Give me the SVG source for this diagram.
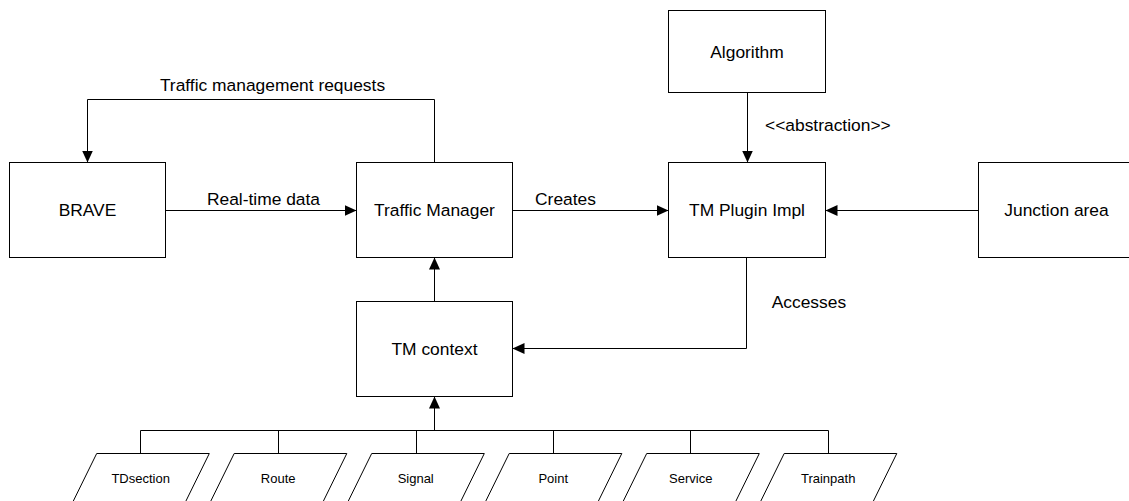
<svg xmlns="http://www.w3.org/2000/svg" width="1129" height="501" viewBox="0 0 1129 501">
  <style>
    .box { fill: #ffffff; stroke: #000000; stroke-width: 1; }
    .lbl { font-family: "Liberation Sans", Arial, sans-serif; font-size: 17.4px; fill: #000000; }
    .mid { text-anchor: middle; }
    .small { font-family: "Liberation Sans", Arial, sans-serif; font-size: 13px; fill: #000000; text-anchor: middle; }
    .edge { fill: none; stroke: #000000; stroke-width: 1; }
  </style>
  <defs>
    <marker id="arrow" viewBox="0 0 12 11" refX="12" refY="5.5" markerWidth="12" markerHeight="11" markerUnits="userSpaceOnUse" orient="auto">
      <path d="M0,0 L12,5.5 L0,11 z" fill="#000000"/>
    </marker>
  </defs>

  <!-- connectors -->
  <g id="connectors">
    <path class="edge" d="M434.5,162.5 V99.5 H87.5 V162.5" marker-end="url(#arrow)"/>
    <path class="edge" d="M165.5,210.5 H356.5" marker-end="url(#arrow)"/>
    <path class="edge" d="M512.5,210.5 H668.5" marker-end="url(#arrow)"/>
    <path class="edge" d="M747.5,92.5 V162.5" marker-end="url(#arrow)"/>
    <path class="edge" d="M978.5,210.5 H825.5" marker-end="url(#arrow)"/>
    <path class="edge" d="M746.5,257.5 V348.5 H512.5" marker-end="url(#arrow)"/>
    <path class="edge" d="M434.5,301.5 V257.5" marker-end="url(#arrow)"/>
    <path class="edge" d="M434.5,430.5 V396.5" marker-end="url(#arrow)"/>
    <path class="edge" d="M140.5,453.5 V430.5 H828.5 V453.5 M278.5,430.5 V453.5 M416.5,430.5 V453.5 M553.5,430.5 V453.5 M690.5,430.5 V453.5"/>
    <text class="lbl mid" x="272.5" y="91">Traffic management requests</text>
    <text class="lbl mid" x="263.5" y="205">Real-time data</text>
    <text class="lbl mid" x="565.5" y="205">Creates</text>
    <text class="lbl" x="765" y="130.5">&lt;&lt;abstraction&gt;&gt;</text>
    <text class="lbl" x="771.7" y="307.5">Accesses</text>
  </g>

  <g id="brave">
    <rect class="box" x="9.5" y="162.5" width="156" height="95"/>
    <text class="lbl mid" x="87.5" y="216">BRAVE</text>
  </g>
  <g id="traffic-manager">
    <rect class="box" x="356.5" y="162.5" width="156" height="95"/>
    <text class="lbl mid" x="434.5" y="216">Traffic Manager</text>
  </g>
  <g id="algorithm">
    <rect class="box" x="668.5" y="10.5" width="157" height="82"/>
    <text class="lbl mid" x="747" y="57.5">Algorithm</text>
  </g>
  <g id="tm-plugin-impl">
    <rect class="box" x="668.5" y="162.5" width="157" height="95"/>
    <text class="lbl mid" x="747" y="216">TM Plugin Impl</text>
  </g>
  <g id="junction-area">
    <rect class="box" x="978.5" y="162.5" width="156" height="95"/>
    <text class="lbl mid" x="1056.5" y="216">Junction area</text>
  </g>
  <g id="tm-context">
    <rect class="box" x="356.5" y="301.5" width="156" height="95"/>
    <text class="lbl mid" x="434.5" y="355">TM context</text>
  </g>

  <!-- data items: parallelograms, top edge at 453.5, slant 24.6 over 50 -->
  <g id="tdsection">
    <path class="box" d="M96.7,453.5 H209.3 L184.7,503.5 H72.1 z"/>
    <text class="small" x="140.7" y="483">TDsection</text>
  </g>
  <g id="route">
    <path class="box" d="M234.2,453.5 H346.8 L322.2,503.5 H209.6 z"/>
    <text class="small" x="278.2" y="483">Route</text>
  </g>
  <g id="signal">
    <path class="box" d="M371.7,453.5 H484.3 L459.7,503.5 H347.1 z"/>
    <text class="small" x="415.7" y="483">Signal</text>
  </g>
  <g id="point">
    <path class="box" d="M509.2,453.5 H621.8 L597.2,503.5 H484.6 z"/>
    <text class="small" x="553.2" y="483">Point</text>
  </g>
  <g id="service">
    <path class="box" d="M646.7,453.5 H759.3 L734.7,503.5 H622.1 z"/>
    <text class="small" x="690.7" y="483">Service</text>
  </g>
  <g id="trainpath">
    <path class="box" d="M784.2,453.5 H896.8 L872.2,503.5 H759.6 z"/>
    <text class="small" x="828.2" y="483">Trainpath</text>
  </g>
</svg>
